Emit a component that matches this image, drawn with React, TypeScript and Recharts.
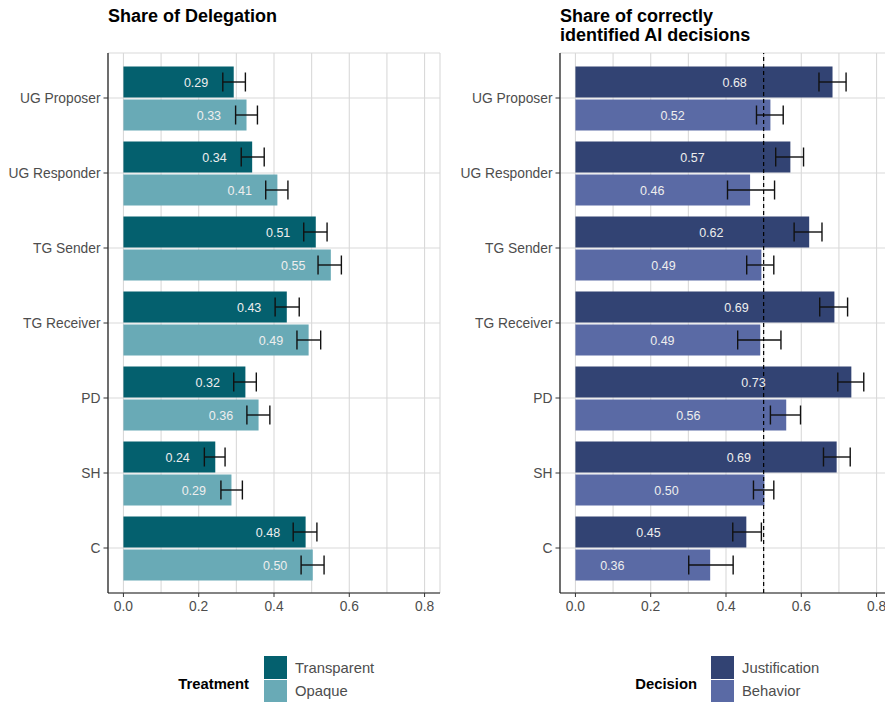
import React from 'react'
import { BarChart, Bar, XAxis, YAxis, CartesianGrid, ErrorBar, LabelList, ReferenceLine } from 'recharts'

const categories = ['UG Proposer', 'UG Responder', 'TG Sender', 'TG Receiver', 'PD', 'SH', 'C']

// share of delegation
const transparentShare = [0.293, 0.342, 0.511, 0.434, 0.324, 0.244, 0.484]
const transparentLow = [0.264, 0.313, 0.479, 0.403, 0.293, 0.215, 0.451]
const transparentHigh = [0.324, 0.374, 0.541, 0.467, 0.353, 0.27, 0.514]
const opaqueShare = [0.327, 0.409, 0.551, 0.492, 0.359, 0.287, 0.503]
const opaqueLow = [0.298, 0.378, 0.517, 0.461, 0.328, 0.259, 0.472]
const opaqueHigh = [0.356, 0.437, 0.579, 0.524, 0.389, 0.316, 0.533]

// share of correctly identified AI decisions
const justificationShare = [0.683, 0.571, 0.621, 0.688, 0.733, 0.694, 0.454]
const justificationLow = [0.647, 0.532, 0.581, 0.649, 0.697, 0.659, 0.418]
const justificationHigh = [0.719, 0.606, 0.655, 0.723, 0.766, 0.73, 0.494]
const behaviorShare = [0.518, 0.464, 0.494, 0.491, 0.56, 0.502, 0.358]
const behaviorLow = [0.481, 0.404, 0.455, 0.431, 0.518, 0.473, 0.301]
const behaviorHigh = [0.552, 0.529, 0.527, 0.546, 0.598, 0.527, 0.419]

const xTicks = [0, 0.2, 0.4, 0.6, 0.8]
const gridTicks = [0, 0.1, 0.2, 0.3, 0.4, 0.5, 0.6, 0.7, 0.8]
const chanceLevel = 0.5

const FONT = '"Liberation Sans", Arial, Helvetica, sans-serif'
const DOMAIN: [number, number] = [-0.041, 0.841]

function buildRows(a: number[], aLo: number[], aHi: number[], b: number[], bLo: number[], bHi: number[]) {
  return categories.map((name, i) => ({
    name,
    a: a[i],
    aErr: [a[i] - aLo[i], aHi[i] - a[i]],
    b: b[i],
    bErr: [b[i] - bLo[i], bHi[i] - b[i]],
  }))
}

const delegationRows = buildRows(transparentShare, transparentLow, transparentHigh, opaqueShare, opaqueLow, opaqueHigh)
const decisionRows = buildRows(justificationShare, justificationLow, justificationHigh, behaviorShare, behaviorLow, behaviorHigh)

const makeLabel = (offset: number) => (props: any) => {
  const { x, y, width, height, value } = props
  const v = Number(value)
  const cx = x + (width * (v - offset)) / v
  return (
    <text x={cx} y={y + height / 2} dy="0.36em" textAnchor="middle" fill="#eeeeee" fontSize={12.5} fontFamily={FONT}>
      {v.toFixed(2)}
    </text>
  )
}

type PanelProps = {
  left: number
  width: number
  rows: any[]
  colors: [string, string]
  labelOffset: number
  showChance?: boolean
}

function Panel({ left, width, rows, colors, labelOffset, showChance }: PanelProps) {
  return (
    <div style={{ position: 'absolute', left, top: 0 }}>
      <BarChart
        width={width}
        height={625}
        data={rows}
        layout="vertical"
        margin={{ top: 53, right: 5, bottom: 2, left: 0 }}
        barSize={31}
        barGap={2}
      >
        <XAxis xAxisId="grid" type="number" domain={DOMAIN} ticks={gridTicks} allowDataOverflow hide />
        <CartesianGrid xAxisId="grid" stroke="#d9d9d9" strokeWidth={1.1} />
        <XAxis
          type="number"
          domain={DOMAIN}
          ticks={xTicks}
          allowDataOverflow
          tickFormatter={(v: number) => v.toFixed(1)}
          tick={{ fill: '#4d4d4d', fontSize: 13.8, fontFamily: FONT }}
          tickLine={{ stroke: '#333333' }}
          tickSize={4}
          tickMargin={4.5}
          axisLine={{ stroke: '#1a1a1a', strokeWidth: 1.2 }}
          height={30}
        />
        <YAxis
          type="category"
          dataKey="name"
          width={108}
          interval={0}
          padding={{ top: 7.5, bottom: 7.5 }}
          tick={{ fill: '#4d4d4d', fontSize: 13.8, fontFamily: FONT }}
          tickLine={{ stroke: '#333333' }}
          tickSize={4.5}
          tickMargin={3}
          axisLine={{ stroke: '#1a1a1a', strokeWidth: 1.2 }}
        />
        <Bar dataKey="a" fill={colors[0]} isAnimationActive={false}>
          <LabelList dataKey="a" content={makeLabel(labelOffset)} />
          <ErrorBar dataKey="aErr" direction="x" width={9.5} stroke="#111111" strokeWidth={1.4} isAnimationActive={false} />
        </Bar>
        <Bar dataKey="b" fill={colors[1]} isAnimationActive={false}>
          <LabelList dataKey="b" content={makeLabel(labelOffset)} />
          <ErrorBar dataKey="bErr" direction="x" width={9.5} stroke="#111111" strokeWidth={1.4} isAnimationActive={false} />
        </Bar>
        {showChance && (
          <ReferenceLine x={chanceLevel} stroke="#000000" strokeWidth={1.2} strokeDasharray="4 3" />
        )}
      </BarChart>
    </div>
  )
}

function LegendBlock({ title, titleRight, keyX, items }: { title: string; titleRight: number; keyX: number; items: [string, string][] }) {
  return (
    <g fontFamily={FONT}>
      <text x={titleRight} y={683.5} dy="0.35em" textAnchor="end" fontWeight="bold" fontSize={14.8} fill="#000">
        {title}
      </text>
      {items.map(([label, color], i) => (
        <g key={label}>
          <rect x={keyX} y={656 + i * 24} width={23} height={23} fill={color} />
          <text x={keyX + 31} y={667.5 + i * 23.5} dy="0.35em" fontSize={14.8} fill="#4d4d4d">
            {label}
          </text>
        </g>
      ))}
    </g>
  )
}

const DELEGATION_COLORS: [string, string] = ['#04606E', '#69AAB6']
const DECISION_COLORS: [string, string] = ['#324373', '#5A6AA5']

const titleStyle: React.CSSProperties = {
  position: 'absolute',
  top: 6.5,
  fontSize: 18,
  lineHeight: '19.5px',
  fontWeight: 'bold',
  color: '#000',
}

export default function App() {
  return (
    <div style={{ position: 'absolute', left: 0, top: 0, width: 885, height: 702, overflow: 'hidden', background: '#fff', fontFamily: FONT }}>
      <div style={{ ...titleStyle, left: 108 }}>Share of Delegation</div>
      <div style={{ ...titleStyle, left: 560 }}>
        Share of correctly
        <br />
        identified AI decisions
      </div>
      <Panel left={0} width={445} rows={delegationRows} colors={DELEGATION_COLORS} labelOffset={0.1} />
      <Panel left={452} width={445} rows={decisionRows} colors={DECISION_COLORS} labelOffset={0.26} showChance />
      <svg width={885} height={702} style={{ position: 'absolute', left: 0, top: 0, pointerEvents: 'none' }}>
        <LegendBlock
          title="Treatment"
          titleRight={249}
          keyX={264}
          items={[['Transparent', DELEGATION_COLORS[0]], ['Opaque', DELEGATION_COLORS[1]]]}
        />
        <LegendBlock
          title="Decision"
          titleRight={697}
          keyX={711}
          items={[['Justification', DECISION_COLORS[0]], ['Behavior', DECISION_COLORS[1]]]}
        />
      </svg>
    </div>
  )
}
